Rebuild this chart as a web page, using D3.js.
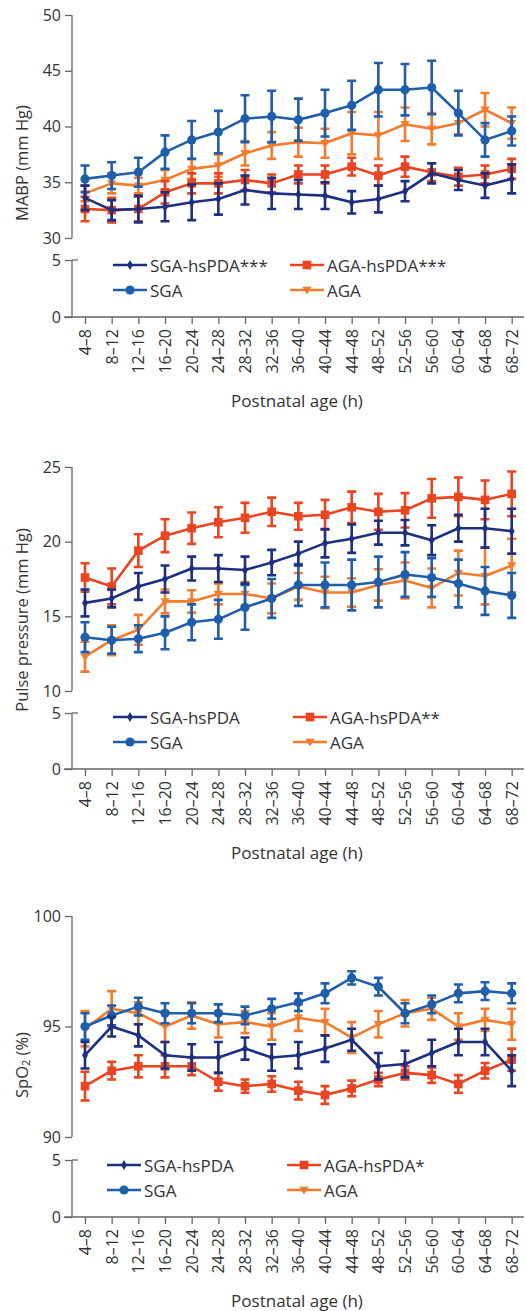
<!DOCTYPE html>
<html>
<head>
<meta charset="utf-8">
<script src="https://cdn.jsdelivr.net/npm/d3@7"></script>
<style>
  body { margin: 0; background: #fff; }
  svg { display: block; font-family: "Open Sans", "Noto Sans", sans-serif; }
  .axis path, .axis line { stroke: #666; stroke-width: 1.3; }
  .axis text { fill: #333; font-size: 16px; font-family: "Open Sans", sans-serif; }
  .ytitle { fill: #333; font-size: 16.5px; }
  .xtitle { fill: #333; font-size: 17px; }
  .leg { fill: #333; font-size: 17px; }
</style>
</head>
<body>
<script>
'use strict';

const categories = ["4–8", "8–12", "12–16", "16–20", "20–24", "24–28", "28–32", "32–36",
  "36–40", "40–44", "44–48", "48–52", "52–56", "56–60", "60–64", "64–68", "68–72"];

// MABP (mm Hg)
const mabpSgaHs     = [33.6, 32.5, 32.6, 32.8, 33.2, 33.5, 34.3, 34.0, 33.9, 33.8, 33.2, 33.5, 34.2, 35.8, 35.2, 34.7, 35.3];
const mabpSgaHsErr  = [1.1, 0.9, 1.2, 1.3, 1.6, 1.4, 1.3, 1.4, 1.3, 1.2, 1.0, 1.2, 0.9, 0.9, 0.9, 1.1, 1.3];
const mabpSga       = [35.3, 35.6, 35.9, 37.7, 38.8, 39.5, 40.7, 40.9, 40.6, 41.2, 41.9, 43.3, 43.3, 43.5, 41.2, 38.8, 39.6];
const mabpSgaErr    = [1.2, 1.2, 1.3, 1.5, 1.7, 1.9, 2.1, 2.3, 1.9, 2.1, 2.2, 2.4, 2.3, 2.4, 2.0, 1.5, 1.3];
const mabpAgaHs     = [32.6, 32.5, 32.6, 34.1, 34.9, 34.9, 35.2, 34.9, 35.7, 35.7, 36.4, 35.6, 36.4, 35.9, 35.5, 35.7, 36.2];
const mabpAgaHsErr  = [1.1, 1.1, 1.1, 1.0, 0.9, 0.9, 0.9, 0.8, 0.8, 0.8, 0.8, 0.9, 0.9, 0.8, 0.8, 0.8, 0.9];
const mabpAga       = [34.0, 34.9, 34.7, 35.2, 36.2, 36.5, 37.6, 38.3, 38.6, 38.5, 39.4, 39.2, 40.2, 39.8, 40.3, 41.5, 40.3];
const mabpAgaErr    = [0.7, 0.9, 0.7, 0.9, 0.9, 1.0, 1.1, 1.2, 1.3, 1.3, 1.9, 2.1, 1.5, 1.4, 1.0, 1.5, 1.4];

// Pulse pressure (mm Hg)
const ppSgaHs       = [15.9, 16.2, 17.0, 17.5, 18.2, 18.2, 18.1, 18.6, 19.2, 19.9, 20.2, 20.6, 20.6, 20.1, 20.9, 20.9, 20.7];
const ppSgaHsErr    = [0.9, 0.6, 0.9, 0.9, 0.8, 0.9, 0.9, 0.85, 0.8, 0.95, 0.95, 0.8, 0.85, 1.0, 0.9, 1.3, 1.5];
const ppSga         = [13.6, 13.4, 13.5, 13.9, 14.6, 14.8, 15.6, 16.2, 17.1, 17.1, 17.1, 17.3, 17.8, 17.6, 17.2, 16.7, 16.4];
const ppSgaErr      = [1.0, 0.9, 0.9, 1.1, 1.2, 1.3, 1.5, 1.3, 1.4, 1.5, 1.7, 1.7, 1.5, 1.3, 1.6, 1.6, 1.5];
const ppAgaHs       = [17.6, 17.0, 19.4, 20.4, 20.9, 21.3, 21.6, 22.0, 21.7, 21.8, 22.3, 22.0, 22.1, 22.9, 23.0, 22.8, 23.2];
const ppAgaHsErr    = [0.95, 1.2, 1.1, 1.1, 1.05, 1.0, 1.0, 0.95, 0.9, 1.0, 1.05, 1.2, 1.15, 1.3, 1.3, 1.3, 1.5];
const ppAga         = [12.3, 13.4, 14.1, 16.0, 16.0, 16.5, 16.5, 16.2, 17.0, 16.6, 16.6, 17.1, 17.4, 16.9, 17.9, 17.7, 18.4];
const ppAgaErr      = [1.0, 1.0, 1.0, 0.8, 0.75, 0.7, 0.8, 1.0, 0.9, 1.05, 0.95, 1.05, 1.2, 1.3, 1.5, 1.9, 1.8];

// SpO2 (%)
const spoSgaHs      = [93.7, 95.0, 94.6, 93.7, 93.6, 93.6, 94.0, 93.6, 93.7, 94.0, 94.4, 93.2, 93.3, 93.8, 94.3, 94.3, 93.0];
const spoSgaHsErr   = [0.6, 0.45, 0.5, 0.6, 0.6, 0.7, 0.5, 0.6, 0.6, 0.6, 0.5, 0.6, 0.6, 0.6, 0.6, 0.6, 0.7];
const spoSga        = [95.0, 95.5, 95.9, 95.6, 95.6, 95.6, 95.5, 95.8, 96.1, 96.5, 97.2, 96.8, 95.6, 96.0, 96.5, 96.6, 96.5];
const spoSgaErr     = [0.6, 0.45, 0.4, 0.45, 0.45, 0.4, 0.4, 0.45, 0.4, 0.45, 0.3, 0.4, 0.45, 0.4, 0.4, 0.4, 0.45];
const spoAgaHs      = [92.3, 93.0, 93.2, 93.2, 93.2, 92.5, 92.3, 92.4, 92.1, 91.9, 92.2, 92.6, 92.9, 92.8, 92.4, 93.0, 93.5];
const spoAgaHsErr   = [0.65, 0.4, 0.5, 0.5, 0.4, 0.4, 0.3, 0.35, 0.4, 0.4, 0.35, 0.3, 0.3, 0.35, 0.4, 0.35, 0.5];
const spoAga        = [94.9, 95.8, 95.6, 95.0, 95.5, 95.1, 95.2, 95.0, 95.4, 95.2, 94.5, 95.1, 95.6, 95.8, 95.0, 95.3, 95.1];
const spoAgaErr     = [0.8, 0.8, 0.5, 0.7, 0.6, 0.6, 0.5, 0.6, 0.6, 0.6, 0.7, 0.6, 0.6, 0.5, 0.6, 0.5, 0.7];

const mabpLegend = ["SGA-hsPDA***", "AGA-hsPDA***", "SGA", "AGA"];
const ppLegend   = ["SGA-hsPDA", "AGA-hsPDA**", "SGA", "AGA"];
const spoLegend  = ["SGA-hsPDA", "AGA-hsPDA*", "SGA", "AGA"];

const colors = {
  sgaHs: "#1c2f80",
  sga:   "#1f5eab",
  agaHs: "#ea4420",
  aga:   "#f47b2e"
};

const W = 526, H = 1311;
const svg = d3.select("body").append("svg").attr("width", W).attr("height", H);

const axisX = 72;
const x = d3.scalePoint(categories, [85, 511.7]);

function marker(sel, kind, color) {
  if (kind === "circle") {
    sel.append("circle").attr("r", 4.6).attr("fill", color);
  } else if (kind === "square") {
    sel.append("rect").attr("x", -4.3).attr("y", -4.3).attr("width", 8.6).attr("height", 8.6).attr("fill", color);
  } else if (kind === "diamond") {
    sel.append("path").attr("d", d3.symbol(d3.symbolDiamond, 30)()).attr("fill", color);
  } else {
    sel.append("path").attr("d", "M-4.6,-3.2L4.6,-3.2L0,4.4Z").attr("fill", color);
  }
}

function drawPanel(cfg) {
  const g = svg.append("g");
  const y = d3.scaleLinear(cfg.domain, cfg.range);
  const yLow = d3.scaleLinear([0, 5], [cfg.zeroY, cfg.fiveY]);

  // upper y axis
  g.append("g").attr("class", "axis")
    .attr("transform", `translate(${axisX},0)`)
    .call(d3.axisLeft(y).tickValues(cfg.ticks).tickFormat(d3.format("d"))
      .tickSize(7).tickPadding(4).tickSizeOuter(0))
    .call(a => a.select(".domain").attr("d", `M0,${cfg.range[0]}V${cfg.range[1]}`));

  // lower y axis (after break)
  g.append("g").attr("class", "axis")
    .attr("transform", `translate(${axisX},0)`)
    .call(d3.axisLeft(yLow).tickValues([0, 5]).tickFormat(d3.format("d"))
      .tickSize(7).tickPadding(4).tickSizeOuter(0))
    .call(a => a.select(".domain").attr("d", `M0,${cfg.fiveY}V${cfg.zeroY}`));
  g.append("line").attr("x1", axisX).attr("x2", axisX + 6)
    .attr("y1", cfg.fiveY).attr("y2", cfg.fiveY)
    .attr("stroke", "#666").attr("stroke-width", 1.3);

  // x axis
  const xa = g.append("g").attr("class", "axis")
    .attr("transform", `translate(0,${cfg.zeroY})`)
    .call(d3.axisBottom(x).tickSize(7).tickPadding(4).tickSizeOuter(0));
  xa.select(".domain").attr("d", `M${axisX - 8},0H524`);
  xa.selectAll(".tick text")
    .attr("transform", "rotate(-90)")
    .attr("text-anchor", "end")
    .attr("dy", "0.35em")
    .attr("x", -12)
    .attr("y", 0);

  g.append("text").attr("class", "xtitle")
    .attr("x", 297).attr("y", cfg.zeroY + 83)
    .attr("text-anchor", "middle").attr("dominant-baseline", "central")
    .text("Postnatal age (h)");

  const yt = g.append("text").attr("class", "ytitle")
    .attr("transform", `translate(21,${cfg.titleY}) rotate(-90)`)
    .attr("text-anchor", "middle").attr("dominant-baseline", "central");
  if (cfg.title === "SpO2 (%)") {
    yt.append("tspan").text("SpO");
    yt.append("tspan").attr("font-size", "11px").attr("dy", 4).text("2");
    yt.append("tspan").attr("dy", -4).text(" (%)");
  } else {
    yt.text(cfg.title);
  }

  // series: drawn back to front
  const series = [
    { v: cfg.aga,   e: cfg.agaErr,   c: colors.aga,   m: "tri" },
    { v: cfg.agaHs, e: cfg.agaHsErr, c: colors.agaHs, m: "square" },
    { v: cfg.sga,   e: cfg.sgaErr,   c: colors.sga,   m: "circle" },
    { v: cfg.sgaHs, e: cfg.sgaHsErr, c: colors.sgaHs, m: "diamond" }
  ];
  const line = d3.line().x((d, i) => x(categories[i])).y(d => y(d));
  series.forEach(s => {
    const sg = g.append("g");
    sg.append("path").attr("d", line(s.v)).attr("fill", "none")
      .attr("stroke", s.c).attr("stroke-width", 2.6).attr("stroke-linejoin", "round");
    const pts = sg.selectAll(".pt").data(s.v).join("g")
      .attr("transform", (d, i) => `translate(${x(categories[i])},${y(d)})`);
    pts.each(function(d, i) {
      const p = d3.select(this);
      const top = y(d + s.e[i]) - y(d), bot = y(d - s.e[i]) - y(d);
      p.append("path")
        .attr("d", `M0,${top}V${bot}M-4.5,${top}H4.5M-4.5,${bot}H4.5`)
        .attr("stroke", s.c).attr("stroke-width", 2.6).attr("fill", "none");
      marker(p, s.m, s.c);
    });
  });

  // legend
  const rows = [
    { t: cfg.legend[0], c: colors.sgaHs, m: "diamond", col: 0, row: 0 },
    { t: cfg.legend[1], c: colors.agaHs, m: "square",  col: 1, row: 0 },
    { t: cfg.legend[2], c: colors.sga,   m: "circle",  col: 0, row: 1 },
    { t: cfg.legend[3], c: colors.aga,   m: "tri",     col: 1, row: 1 }
  ];
  rows.forEach(r => {
    const lx = cfg.legendX[r.col];
    const ly = cfg.zeroY - 52 + r.row * 25;
    const lg = g.append("g").attr("transform", `translate(${lx},${ly})`);
    lg.append("line").attr("x1", 0).attr("x2", 34).attr("stroke", r.c).attr("stroke-width", 2.6);
    const mk = lg.append("g").attr("transform", "translate(17,0)");
    marker(mk, r.m, r.c);
    lg.append("text").attr("class", "leg").attr("x", 37).attr("dominant-baseline", "central").text(r.t);
  });
}

drawPanel({
  domain: [30, 50], range: [238, 15], ticks: [30, 35, 40, 45, 50],
  fiveY: 260, zeroY: 317, title: "MABP (mm Hg)", titleY: 163,
  sgaHs: mabpSgaHs, sgaHsErr: mabpSgaHsErr, sga: mabpSga, sgaErr: mabpSgaErr,
  agaHs: mabpAgaHs, agaHsErr: mabpAgaHsErr, aga: mabpAga, agaErr: mabpAgaErr,
  legend: mabpLegend, legendX: [113, 290]
});

drawPanel({
  domain: [10, 25], range: [691, 467], ticks: [10, 15, 20, 25],
  fiveY: 713, zeroY: 769, title: "Pulse pressure (mm Hg)", titleY: 620,
  sgaHs: ppSgaHs, sgaHsErr: ppSgaHsErr, sga: ppSga, sgaErr: ppSgaErr,
  agaHs: ppAgaHs, agaHsErr: ppAgaHsErr, aga: ppAga, agaErr: ppAgaErr,
  legend: ppLegend, legendX: [113, 293]
});

drawPanel({
  domain: [90, 100], range: [1137, 916], ticks: [90, 95, 100],
  fiveY: 1160, zeroY: 1217, title: "SpO2 (%)", titleY: 1065,
  sgaHs: spoSgaHs, sgaHsErr: spoSgaHsErr, sga: spoSga, sgaErr: spoSgaErr,
  agaHs: spoAgaHs, agaHsErr: spoAgaHsErr, aga: spoAga, agaErr: spoAgaErr,
  legend: spoLegend, legendX: [107, 287]
});
</script>
</body>
</html>
